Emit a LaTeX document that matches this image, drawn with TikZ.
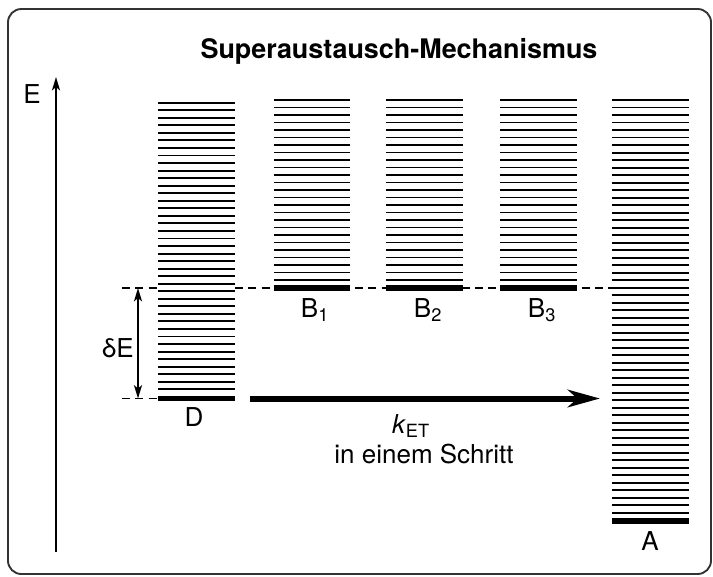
\documentclass[tikz,border=0pt]{standalone}
\usepackage{fontspec}
\setmainfont{TeX Gyre Heros}
\usetikzlibrary{arrows.meta,positioning}

\begin{document}
\begin{tikzpicture}[x=.75pt,y=-.75pt,font=\fontsize{19.5}{22}\selectfont,
 lvl/.style={line width=1.45pt},
 gnd/.style={line width=4.2pt},
 lbl/.style={inner sep=0pt,anchor=base},
 >={Stealth[length=10pt,width=6pt,inset=2.5pt]}]
\useasboundingbox (0,0) rectangle (713,576);
\draw[line width=1.4pt,black!80,rounded corners=10] (8,9) rectangle (711,574);
\node[lbl] (title) at (399,58) {\bfseries\fontsize{20.2}{24}\selectfont Superaustausch-Mechanismus};
% Energieachse
\coordinate (e0) at (56,552);
\coordinate (e1) at (56,77);
\draw[line width=1.3pt,->] (e0) -- (e1);
\node[lbl] (elbl) at (32,103) {E};
% Niveaus: links/rechts/oben/Intervalle/unten/Grundniveau/Name
\foreach \xl/\xr/\top/\n/\bot/\gy/\nm in {158/235/102.7/38/389.3/398.5/D,
 274/350/100/24/280/288/Ba,386/463/100/24/280/288/Bb,500/577/100/24/280/288/Bc,
 612/689/100/55/512.7/521/A}{
 \pgfmathsetmacro{\s}{(\bot-\top)/\n}
 \foreach \i in {0,...,\n}
  \draw[lvl] (\xl,\top+\i*\s) -- (\xr,\top+\i*\s);
 \coordinate (\nm-l) at (\xl,\gy);
 \coordinate (\nm-r) at (\xr,\gy);
 \draw[gnd] (\nm-l) -- (\nm-r);
}
% Bezugslinien
\coordinate (d0) at (122,288);
\coordinate (d1) at (122,398.5);
\draw[lvl,dash pattern=on 6pt off 4pt] (d0) -- (158,288);
\draw[lvl,dash pattern=on 6pt off 4pt] (D-r|-d0) -- (A-l|-d0);
\draw[lvl,dash pattern=on 6pt off 4pt] (d1) -- (D-l);
\coordinate (de0) at (138,288);
\coordinate (de1) at (138,398.5);
\draw[lvl,<->] (de0) -- (de1);
\node[lbl] (delbl) at (118,357) {δE};
% Transfer in einem Schritt
\coordinate (k0) at (250,398.5);
\coordinate (k1) at (600,398.5);
\draw[line width=4.5pt,-{Stealth[length=24pt,width=13pt,inset=7pt]}] (k0) -- (k1);
\node[lbl] (ket) at (411,433) {\textit{k}\textsubscript{ET}};
\node[lbl] (step1) at (424,463) {in einem Schritt};
% Beschriftungen
\node[lbl] (Dlbl) at (194,426) {D};
\node[lbl] (Balbl) at (315,317) {B\textsubscript{1}};
\node[lbl] (Bblbl) at (428,317) {B\textsubscript{2}};
\node[lbl] (Bclbl) at (542,317) {B\textsubscript{3}};
\node[lbl] (Albl) at (650,550) {A};
\end{tikzpicture}
\end{document}
